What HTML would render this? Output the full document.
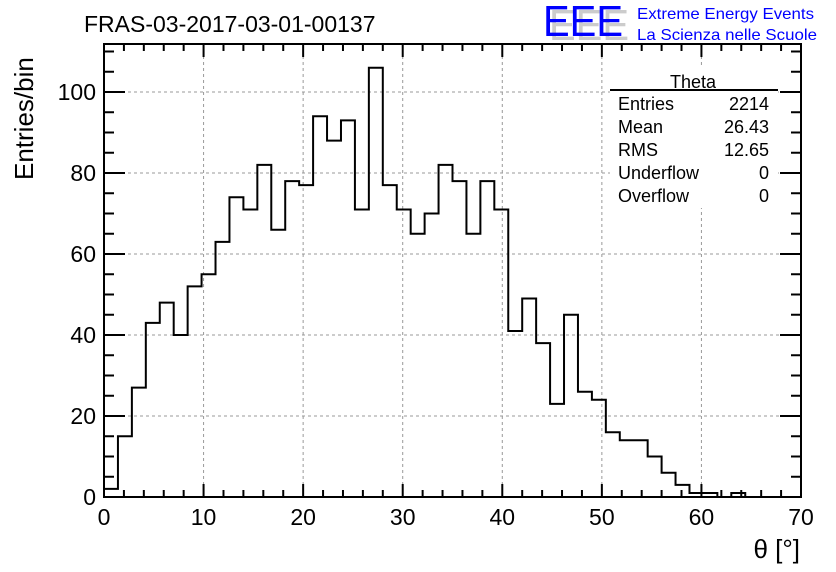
<!DOCTYPE html>
<html><head><meta charset="utf-8"><style>
body{margin:0;background:#fff;}
svg{display:block;font-family:"Liberation Sans",sans-serif;}
</style></head><body>
<svg id="c" width="836" height="572">
<rect width="836" height="572" fill="#fff"/>
<g id="grid"></g><g id="ticks"></g>
<path id="hist" fill="none" stroke="#000" stroke-width="2"/>
<rect x="104" y="44" width="697" height="453" fill="none" stroke="#000" stroke-width="2"/>
<text x="84" y="32" font-size="23">FRAS-03-2017-03-01-00137</text>
<g>
<text x="549" y="40" font-size="44" fill="#ccc" textLength="80" lengthAdjust="spacingAndGlyphs">EEE</text>
<text x="543" y="36" font-size="44" fill="#0000ff" textLength="80" lengthAdjust="spacingAndGlyphs">EEE</text>
<text x="637" y="19" font-size="16" fill="#0000ff" textLength="177" lengthAdjust="spacingAndGlyphs">Extreme Energy Events</text>
<text x="637" y="40" font-size="16" fill="#0000ff" textLength="180" lengthAdjust="spacingAndGlyphs">La Scienza nelle Scuole</text>
</g>
<g font-size="18">
<rect x="610" y="68" width="168" height="140" fill="#fff"/>
<text x="693" y="88" text-anchor="middle">Theta</text>
<line x1="610" y1="90" x2="778" y2="90" stroke="#000" stroke-width="2"/>
<text x="618" y="110">Entries</text><text x="769" y="110" text-anchor="end">2214</text>
<text x="618" y="133">Mean</text><text x="769" y="133" text-anchor="end">26.43</text>
<text x="618" y="156">RMS</text><text x="769" y="156" text-anchor="end">12.65</text>
<text x="618" y="179">Underflow</text><text x="769" y="179" text-anchor="end">0</text>
<text x="618" y="202">Overflow</text><text x="769" y="202" text-anchor="end">0</text>
</g>
<text x="800" y="558" font-size="26" text-anchor="end">θ [°]</text>
<text transform="translate(33,180) rotate(-90)" font-size="26">Entries/bin</text>
</svg>
<script>
const counts=[2,15,27,43,48,40,52,55,63,74,71,82,66,78,77,94,88,93,71,106,77,71,65,70,82,78,65,78,71,41,49,38,23,45,26,24,16,14,14,10,6,3,1,1,0,1,0,0,0,0];
const xTicks=[0,10,20,30,40,50,60,70];
const yTicks=[0,20,40,60,80,100];
const binWidth=1.4;
const X0=104,X1=801,Y0=497,Y1=44,XMAX=70,YMAX=111.85;
const sx=v=>X0+v/XMAX*(X1-X0);
const sy=v=>Y0-v/YMAX*(Y0-Y1);
const NS="http://www.w3.org/2000/svg";
function mk(tag,attrs,parent){const e=document.createElementNS(NS,tag);for(const k in attrs)e.setAttribute(k,attrs[k]);parent.appendChild(e);return e;}
const grid=document.getElementById('grid'),ticks=document.getElementById('ticks');
xTicks.forEach(t=>{
  if(t>0&&t<XMAX){const l=mk('line',{x1:sx(t),x2:sx(t),y1:Y1,y2:Y0,stroke:'#999','stroke-dasharray':'3,3','stroke-width':1},grid);
  
  }
  const tx=mk('text',{x:sx(t),y:525,'font-size':23,'text-anchor':'middle'},ticks);tx.textContent=t;
  
  
});
yTicks.forEach(t=>{
  if(t>0){const l=mk('line',{x1:X0,x2:X1,y1:sy(t),y2:sy(t),stroke:'#999','stroke-dasharray':'3,3','stroke-width':1},grid);
  
  }
  const tx=mk('text',{x:96,y:sy(t)+8,'font-size':23,'text-anchor':'end'},ticks);tx.textContent=t;
  
  
});
for(let v=0;v<=XMAX;v+=2){const maj=v%10===0,L=maj?13:7;
  mk('line',{x1:sx(v),x2:sx(v),y1:Y0,y2:Y0-L,stroke:'#000','stroke-width':2},ticks);
  mk('line',{x1:sx(v),x2:sx(v),y1:Y1,y2:Y1+L,stroke:'#000','stroke-width':2},ticks);}
for(let v=0;v<=YMAX;v+=5){const maj=v%20===0,L=maj?21:10;
  mk('line',{x1:X0,x2:X0+L,y1:sy(v),y2:sy(v),stroke:'#000','stroke-width':2},ticks);
  mk('line',{x1:X1,x2:X1-L,y1:sy(v),y2:sy(v),stroke:'#000','stroke-width':2},ticks);}
let d='M'+sx(0)+','+sy(0);
counts.forEach((c,i)=>{d+=' L'+sx(i*binWidth)+','+sy(c)+' L'+sx((i+1)*binWidth)+','+sy(c);});
d+=' L'+sx(counts.length*binWidth)+','+sy(0);
document.getElementById('hist').setAttribute('d',d);
</script>
</body></html>
